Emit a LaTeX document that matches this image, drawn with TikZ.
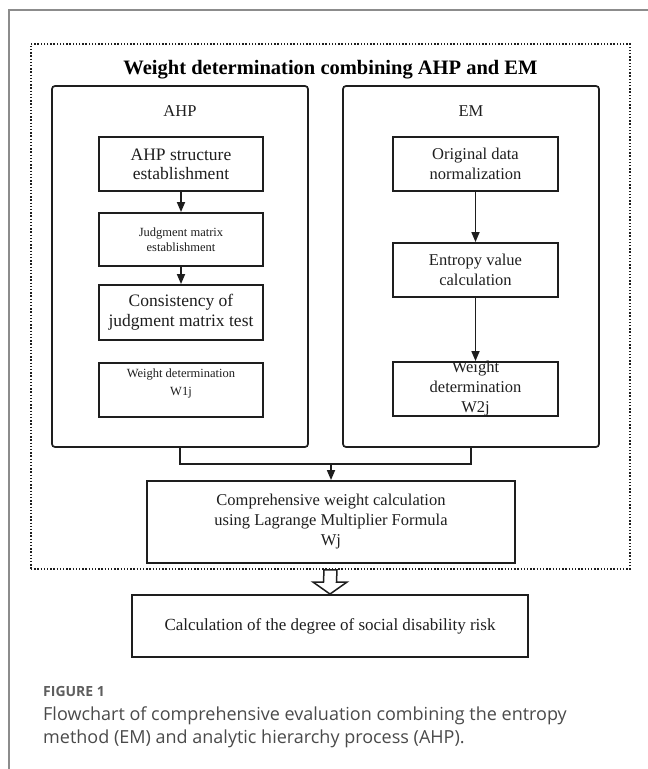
\documentclass[tikz,border=0pt]{standalone}
\usepackage{fontspec}
\setmainfont{Liberation Serif}
\newfontfamily\capfont{Open Sans}
\usetikzlibrary{positioning,arrows.meta,calc}

\definecolor{framegray}{HTML}{8C8C8C}
\definecolor{capgray}{HTML}{4A4A4A}
\definecolor{figgray}{HTML}{5E5E5E}
\definecolor{inkgray}{HTML}{1E1E1E}
\newcommand{\fsz}[2]{\fontsize{#1}{#2}\selectfont}

\tikzset{
    panel/.style={draw=inkgray, line width=1.7pt, rounded corners=3pt},
    stepbox/.style={draw=inkgray, line width=1.9pt, align=center, inner sep=0pt, text=inkgray},
    flow/.style={draw=inkgray, line width=1.7pt, -{Triangle[length=10pt,width=8pt]}},
    link/.style={draw=inkgray, line width=1.7pt},
    captext/.style={anchor=base west, inner sep=0pt, font=\capfont\fsz{18}{23}, text=capgray}
}

\begin{document}
\begin{tikzpicture}[x=1pt,y=-1pt]
                \useasboundingbox (0,0) rectangle (648,769);
                \draw[framegray, line width=1.6pt] (9,769) |- (648,10);

                % dotted frame and its title
                \node[draw=inkgray, line width=1.5pt, dash pattern=on 1.4pt off 1.8pt,
                    minimum width=599pt, minimum height=525pt, inner sep=0pt] (outer) at (330.5,306.5) {};
                \node[font=\fsz{20.5}{24}\bfseries, anchor=base] (title) at (330.5,74) {Weight determination combining AHP and EM};

                % the two methods
                \node[panel, minimum width=256pt, minimum height=361pt] (ahp) at (180,266.5) {};
                \node[panel, minimum width=256pt, minimum height=361pt] (em) at (471,266.5) {};
                \node[font=\fsz{16.5}{18}, anchor=base, text=inkgray] (ahplab) at (180,116) {AHP};
                \node[font=\fsz{16.5}{18}, anchor=base, text=inkgray] (emlab) at (471,116) {EM};

                \node[stepbox, font=\fsz{17.5}{19}, minimum width=164pt, minimum height=54pt] (a1) at (181,164) {AHP structure\\establishment};
                \node[stepbox, font=\fsz{12.5}{15}, minimum width=164pt, minimum height=53pt] (a2) at (181,239.5) {Judgment matrix\\establishment};
                \node[stepbox, font=\fsz{17.5}{20}, minimum width=164pt, minimum height=55pt] (a3) at (181,312.5) {Consistency of\\judgment matrix test};
                \node[stepbox, minimum width=164pt, minimum height=54pt] (a4) at (181,390) {};
                \node[font=\fsz{12.5}{18}, align=center, anchor=north, inner sep=0pt, text=inkgray] (a4txt) at ($(a4.north)+(0,7)$) {Weight determination\\W1j};

                \node[stepbox, font=\fsz{16.5}{20}, minimum width=165pt, minimum height=54pt] (e1) at (475.5,164) {Original data\\normalization};
                \node[stepbox, font=\fsz{16.5}{20}, minimum width=165pt, minimum height=54pt] (e2) at (475.5,270) {Entropy value\\calculation};
                \node[stepbox, minimum width=165pt, minimum height=54pt] (e3) at (475.5,389) {};
                \node[font=\fsz{16.5}{20}, align=center, inner sep=0pt, text=inkgray] (e3txt) at (e3) {Weight\\determination\\W2j};

                \foreach \from/\to in {a1/a2, a2/a3, e1/e2, e2/e3} {
                    \draw[flow] (\from) -- (\to);
                }

                % merging the two weights
                \node[stepbox, font=\fsz{16.5}{20}, minimum width=368pt, minimum height=82pt] (comp) at (331,522)
                    {Comprehensive weight calculation\\using Lagrange Multiplier Formula\\Wj};
                \coordinate (merge) at (331,464);
                \draw[link] (ahp.south) |- (merge) -| (em.south);
                \draw[flow] (merge) -- (comp);

                % result
                \node[stepbox, font=\fsz{17}{20}, minimum width=396pt, minimum height=62pt] (risk) at (330,626)
                    {Calculation of the degree of social disability risk};
                \draw[inkgray, line width=1.5pt, fill=white] (risk.north) -- ++(-17,-12) -- ++(10.5,0)
                    -- ($(outer.south)+(-6.5,0)$) -- ++(13,0) -- ($(risk.north)+(6.5,-12)$) -- ++(10.5,0) -- cycle;

                % caption
                \node[captext, font=\capfont\bfseries\fsz{14}{17}, text=figgray] (fig) at (43,696) {FIGURE 1};
                \node[captext] (cap1) at (43,720) {Flowchart of comprehensive evaluation combining the entropy};
                \node[captext] (cap2) at (43,743) {method (EM) and analytic hierarchy process (AHP).};
            \end{tikzpicture}
\end{document}
